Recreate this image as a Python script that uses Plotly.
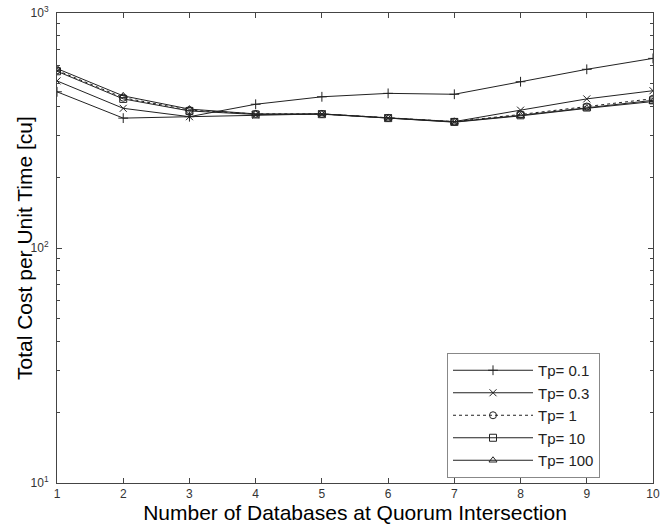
import plotly.graph_objects as go

x_vals = [1, 2, 3, 4, 5, 6, 7, 8, 9, 10]
tp_01 = [462, 357, 362, 409, 440, 455, 451, 510, 576, 641]
tp_03 = [514, 393, 362, 368, 372, 358, 345, 386, 431, 467]
tp_1 = [570, 436, 386, 372, 372, 358, 345, 370, 400, 432]
tp_10 = [565, 431, 383, 370, 371, 357, 344, 367, 396, 425]
tp_100 = [580, 444, 390, 372, 372, 357, 343, 365, 393, 420]

names = ["Tp= 0.1", "Tp= 0.3", "Tp= 1", "Tp= 10", "Tp= 100"]
series = [tp_01, tp_03, tp_1, tp_10, tp_100]
symbols = ["cross-thin-open", "x-thin-open", "circle-open", "square-open", "triangle-up-open"]
dashes = ["solid", "solid", "dot", "solid", "solid"]

x_ticks = [1, 2, 3, 4, 5, 6, 7, 8, 9, 10]
y_ticks = [10, 100, 1000]
y_ticktext = ["10<sup>1</sup>", "10<sup>2</sup>", "10<sup>3</sup>"]
y_minor = [20, 30, 40, 50, 60, 70, 80, 90, 200, 300, 400, 500, 600, 700, 800, 900]

fig = go.Figure()
for name, ys, sym, dash in zip(names, series, symbols, dashes):
    fig.add_trace(go.Scatter(
        x=x_vals, y=ys, name=name, mode="lines+markers",
        line=dict(color="#222222", width=1, dash=dash),
        marker=dict(symbol=sym, size=7, color="#222222", line=dict(width=1, color="#222222")),
    ))

font = "Liberation Sans, Arial, Helvetica, sans-serif"
fig.update_layout(
    width=660, height=529,
    margin=dict(l=57, r=7, t=13, b=46),
    paper_bgcolor="white", plot_bgcolor="white",
    font=dict(family=font, color="black"),
    showlegend=True,
    legend=dict(
        x=(447 - 57) / 596, y=(483 - 353) / 470, xanchor="left", yanchor="top",
        bgcolor="white", bordercolor="#888888", borderwidth=1,
        font=dict(size=15, family=font, color="#222222"), itemwidth=80,
        tracegroupgap=0,
    ),
    xaxis=dict(
        range=[1, 10], tickvals=x_ticks, ticks="inside", ticklen=5,
        tickcolor="#444444", linecolor="#444444", linewidth=1, mirror="ticks",
        showline=True, showgrid=False, zeroline=False, automargin=False,
        ticklabeloverflow="allow",
        tickfont=dict(size=12, color="#333333"),
        title=dict(text="Number of Databases at Quorum Intersection",
                   font=dict(size=21), standoff=4),
    ),
    yaxis=dict(
        type="log", range=[1, 3], tickvals=y_ticks, ticktext=y_ticktext,
        ticks="inside", ticklen=5, tickcolor="#444444",
        linecolor="#444444", linewidth=1, mirror="ticks",
        showline=True, showgrid=False, zeroline=False, automargin=False,
        ticklabeloverflow="allow", ticklabelstandoff=5,
        tickfont=dict(size=12, color="#333333"),
        minor=dict(tickvals=y_minor, ticks="inside", ticklen=3, tickcolor="#444444", showgrid=False),
    ),
    annotations=[dict(
        text="Total Cost per Unit Time [cu]", textangle=-90,
        xref="paper", yref="paper", x=0, y=0.5, xanchor="center", yanchor="middle",
        xshift=-33, showarrow=False, font=dict(size=21, color="black"),
    )],
)

fig.write_html("out.html", config={"displayModeBar": False},
               post_script="document.body.style.margin='0';")
